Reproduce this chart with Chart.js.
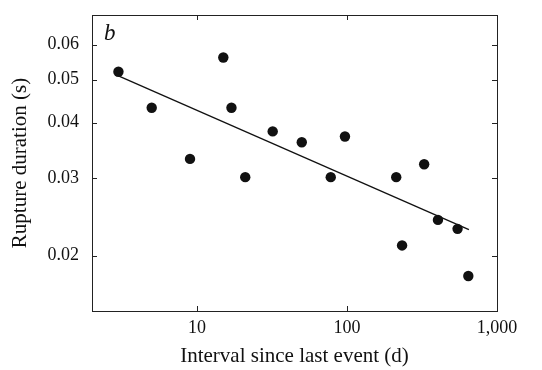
<!DOCTYPE html>
<html><head><meta charset="utf-8">
<script src="https://cdn.jsdelivr.net/npm/chart.js@4/dist/chart.umd.min.js"></script>
<style>html,body{margin:0;padding:0;background:#fff}#wrap{width:542px;height:370px}</style>
</head><body><div id="wrap"><canvas id="c" width="542" height="370"></canvas></div>
<script>
const intervalDays = [3, 5, 9, 15, 17, 21, 32, 50, 78, 97, 213, 233, 327, 404, 546, 644];
const ruptureSec  = [0.0521, 0.0432, 0.0331, 0.0561, 0.0432, 0.0301, 0.0382, 0.0361, 0.0301, 0.0372, 0.0301, 0.0211, 0.0322, 0.0241, 0.0230, 0.0180];
const fitX = [3, 650];
const fitY = [0.0510, 0.0229];
const xTicks = [10, 100, 1000];
const xTickLabels = ['10', '100', '1,000'];
const yTicks = [0.02, 0.03, 0.04, 0.05, 0.06];
const yTickLabels = ['0.02', '0.03', '0.04', '0.05', '0.06'];
const panelLabel = 'b';

const serif = "'Liberation Serif', 'Times New Roman', serif";

const frame = {
  id: 'frame',
  afterDraw(chart) {
    const {ctx, chartArea: a, scales: {x, y}} = chart;
    ctx.save();
    ctx.strokeStyle = '#222';
    ctx.lineWidth = 1;
    ctx.strokeRect(a.left + 0.5, a.top + 0.5, a.right - a.left, a.bottom - a.top);
    const L = 5;
    ctx.beginPath();
    xTicks.forEach(v => {
      const px = Math.round(x.getPixelForValue(v)) + 0.5;
      ctx.moveTo(px, a.bottom); ctx.lineTo(px, a.bottom - L);
      ctx.moveTo(px, a.top); ctx.lineTo(px, a.top + L);
    });
    yTicks.forEach(v => {
      const py = Math.round(y.getPixelForValue(v)) + 0.5;
      ctx.moveTo(a.left, py); ctx.lineTo(a.left + L, py);
      ctx.moveTo(a.right, py); ctx.lineTo(a.right - L, py);
    });
    ctx.stroke();
    ctx.fillStyle = '#111';
    ctx.font = "italic 23px " + serif;
    ctx.textBaseline = 'alphabetic';
    ctx.fillText(panelLabel, a.left + 12, a.top + 25);
    ctx.restore();
  }
};

new Chart(document.getElementById('c'), {
  type: 'scatter',
  data: {
    datasets: [
      {
        data: intervalDays.map((d, i) => ({x: d, y: ruptureSec[i]})),
        backgroundColor: '#111', borderColor: '#111',
        pointRadius: 5.2, pointHoverRadius: 5.2, pointBorderWidth: 0
      },
      {
        type: 'line',
        data: fitX.map((d, i) => ({x: d, y: fitY[i]})),
        borderColor: '#111', borderWidth: 1.3, pointRadius: 0, fill: false
      }
    ]
  },
  plugins: [frame],
  options: {
    responsive: false,
    animation: false,
    events: [],
    layout: {padding: {left: 4, right: 45, top: 15, bottom: 0}},
    plugins: {legend: {display: false}, tooltip: {enabled: false}},
    scales: {
      x: {
        type: 'logarithmic', min: 2, max: 1000,
        afterBuildTicks: s => { s.ticks = xTicks.map(v => ({value: v})); },
        afterFit: s => { s.height = 59; s.paddingLeft = 0; s.paddingRight = 0; },
        grid: {display: false, drawTicks: false},
        border: {display: false},
        ticks: {
          autoSkip: false, maxRotation: 0, padding: 6, color: '#111',
          font: {family: serif, size: 18},
          callback: (v) => { const i = xTicks.indexOf(v); return i >= 0 ? xTickLabels[i] : ''; }
        },
        title: {display: true, text: 'Interval since last event (d)', color: '#111',
          font: {family: serif, size: 21}, padding: {top: 0, bottom: 1}}
      },
      y: {
        type: 'logarithmic', min: 0.015, max: 0.07,
        afterBuildTicks: s => { s.ticks = yTicks.map(v => ({value: v})); },
        afterFit: s => { s.width = 88; s.paddingTop = 0; s.paddingBottom = 0; },
        grid: {display: false, drawTicks: false},
        border: {display: false},
        ticks: {
          autoSkip: false, padding: 13, color: '#111',
          font: {family: serif, size: 18},
          callback: (v) => { const i = yTicks.findIndex(t => Math.abs(t - v) < 1e-9); return i >= 0 ? yTickLabels[i] : ''; }
        },
        title: {display: true, text: 'Rupture duration (s)', color: '#111',
          font: {family: serif, size: 21}, padding: {top: 4, bottom: 0}}
      }
    }
  }
});
</script>
</body></html>
